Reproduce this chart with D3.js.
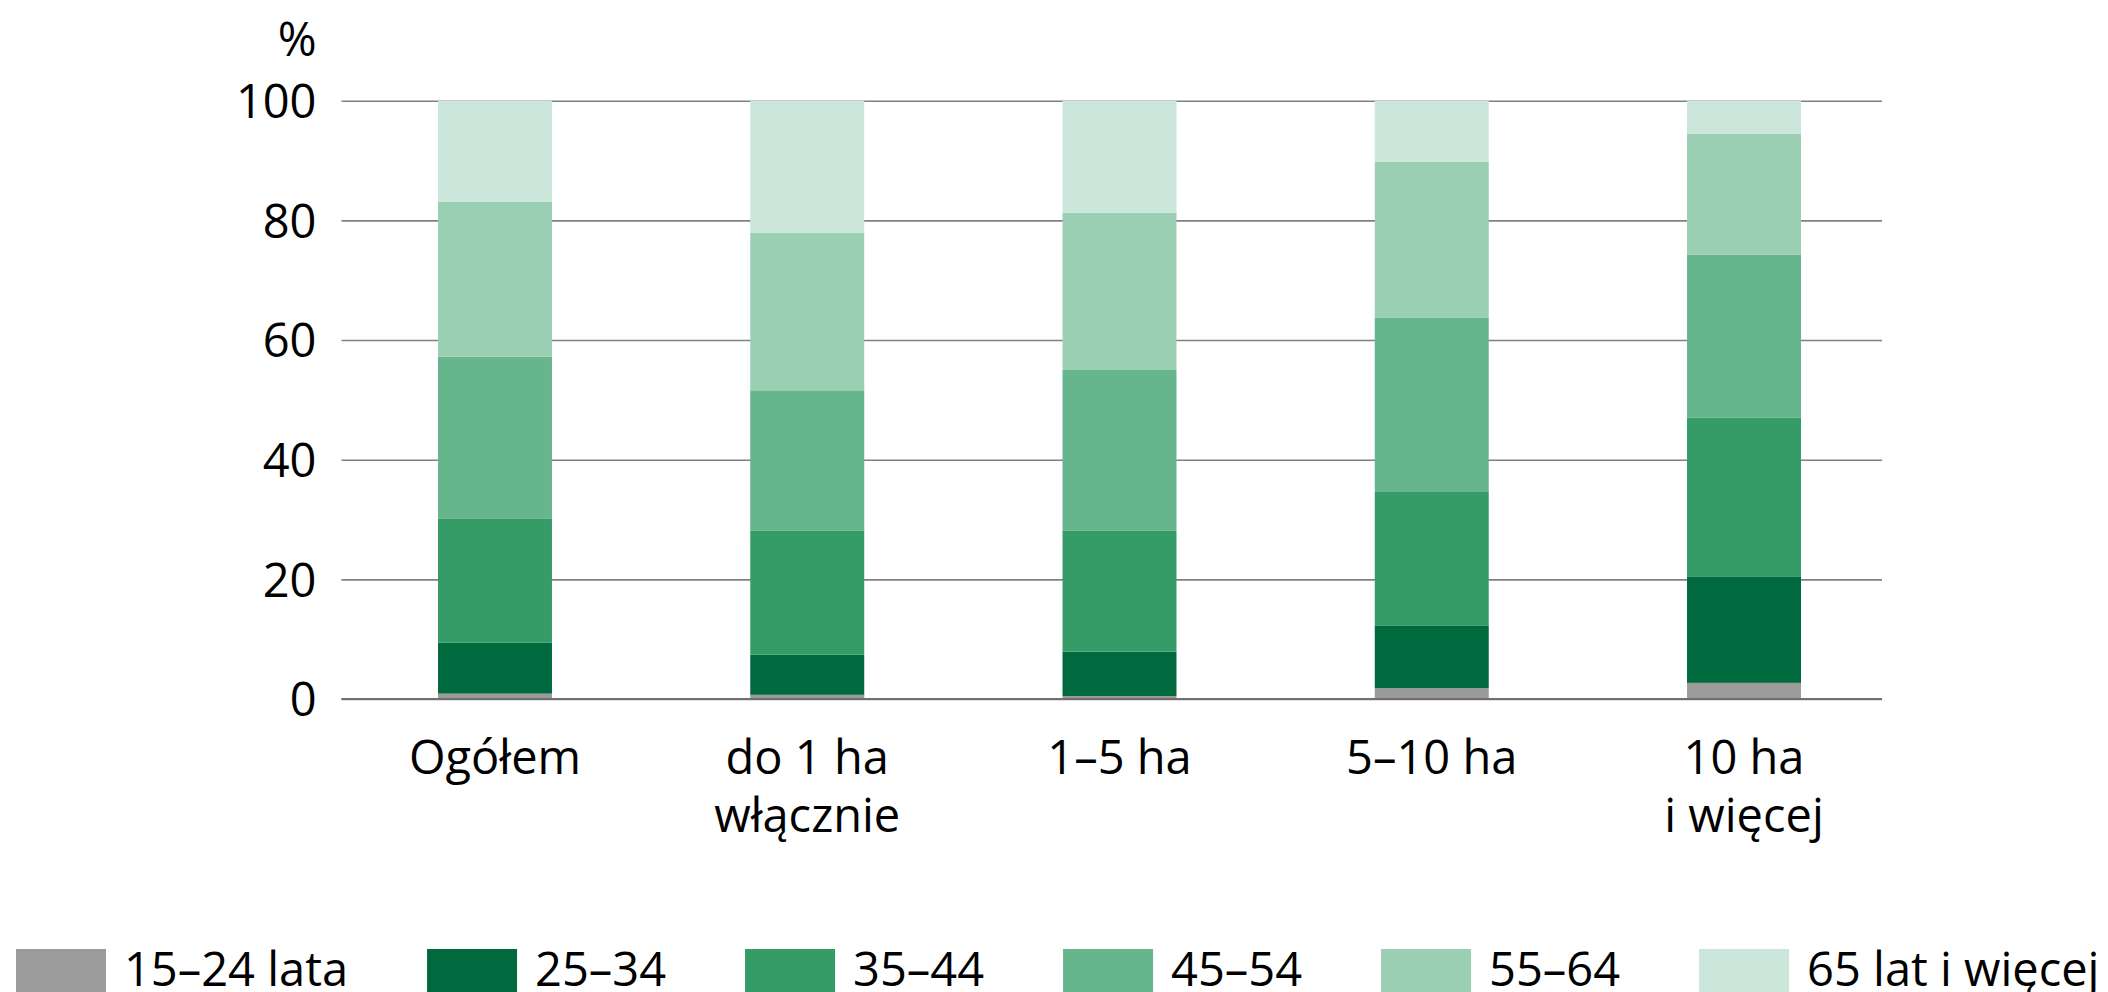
<!DOCTYPE html>
<html>
<head>
<meta charset="utf-8">
<script src="https://cdn.jsdelivr.net/npm/d3@7"></script>
<style>
  html, body { margin: 0; padding: 0; background: #fff; }
  svg { display: block; }
  text { font-family: "Open Sans", "Noto Sans", sans-serif; fill: #000; }
</style>
</head>
<body>
<svg id="chart" width="2108" height="992"></svg>
<script>
// ---- data ----
const categories = ["Ogółem", "do 1 ha włącznie", "1–5 ha", "5–10 ha", "10 ha i więcej"];
const categoryLines = [["Ogółem"], ["do 1 ha", "włącznie"], ["1–5 ha"], ["5–10 ha"], ["10 ha", "i więcej"]];
const seriesNames = ["15–24 lata", "25–34", "35–44", "45–54", "55–64", "65 lat i więcej"];
const s15_24 = [0.9, 0.7, 0.5, 1.8, 2.7];
const s25_34 = [8.5, 6.7, 7.4, 10.5, 17.8];
const s35_44 = [20.7, 20.7, 20.2, 22.3, 26.5];
const s45_54 = [27.1, 23.5, 26.9, 29.1, 27.3];
const s55_64 = [25.9, 26.3, 26.3, 26.1, 20.2];
const s65plus = [16.9, 22.1, 18.7, 10.2, 5.5];
const yTicks = [0, 20, 40, 60, 80, 100];
const colors = ["#9b9b9b", "#00693d", "#359c68", "#67b58c", "#9bcfb4", "#cbe6da"];

const seriesValues = [s15_24, s25_34, s35_44, s45_54, s55_64, s65plus];
const table = categories.map((c, i) => {
  const row = { category: c };
  seriesNames.forEach((s, j) => { row[s] = seriesValues[j][i]; });
  return row;
});

// ---- layout ----
const FS = 47;
const gridLeft = 341.5, gridRight = 1882;
const svg = d3.select("#chart");

const x = d3.scaleBand().domain(categories).range([438, 1801]).paddingInner(0.635).paddingOuter(0);
const y = d3.scaleLinear().domain([0, 100]).range([699, 100.7]);

// y axis with gridlines
const yAxis = d3.axisLeft(y).tickValues(yTicks).tickSize(-(gridRight - gridLeft)).tickPadding(25);
const gy = svg.append("g").attr("transform", `translate(${gridLeft},0)`).call(yAxis);
gy.select(".domain").remove();
gy.selectAll(".tick line").attr("stroke", "#808080").attr("stroke-width", 1.6);
gy.selectAll(".tick text").attr("font-size", FS).attr("fill", "#000")
  .style("font-family", '"Open Sans", sans-serif').attr("dy", "0.36em");

// unit label
svg.append("text").attr("x", gridLeft - 25).attr("y", 56).attr("text-anchor", "end")
  .attr("font-size", FS).text("%");

// stacked bars
const stack = d3.stack().keys(seriesNames);
const stacked = stack(table);
svg.append("g").selectAll("g").data(stacked).join("g")
  .attr("fill", (d, i) => colors[i])
  .selectAll("rect").data(d => d).join("rect")
  .attr("x", d => x(d.data.category))
  .attr("width", x.bandwidth())
  .attr("y", d => y(d[1]))
  .attr("height", d => y(d[0]) - y(d[1]));

// baseline on top
svg.append("line").attr("x1", gridLeft).attr("x2", gridRight)
  .attr("y1", y(0)).attr("y2", y(0)).attr("stroke", "#707070").attr("stroke-width", 1.8);

// category labels
const xl = svg.append("g");
categories.forEach((c, i) => {
  const t = xl.append("text").attr("text-anchor", "middle").attr("font-size", FS)
    .attr("x", x(c) + x.bandwidth() / 2).attr("y", 774);
  categoryLines[i].forEach((line, k) => {
    t.append("tspan").attr("x", x(c) + x.bandwidth() / 2).attr("dy", k === 0 ? 0 : 58).text(line);
  });
});

// legend
const lg = svg.append("g");
let lx = 16;
seriesNames.forEach((s, i) => {
  lg.append("rect").attr("x", lx).attr("y", 949).attr("width", 90).attr("height", 46).attr("fill", colors[i]);
  const t = lg.append("text").attr("x", lx + 108).attr("y", 986).attr("font-size", FS).text(s);
  const w = t.node().getComputedTextLength();
  lx = lx + 108 + w + 79;
});
</script>
</body>
</html>
